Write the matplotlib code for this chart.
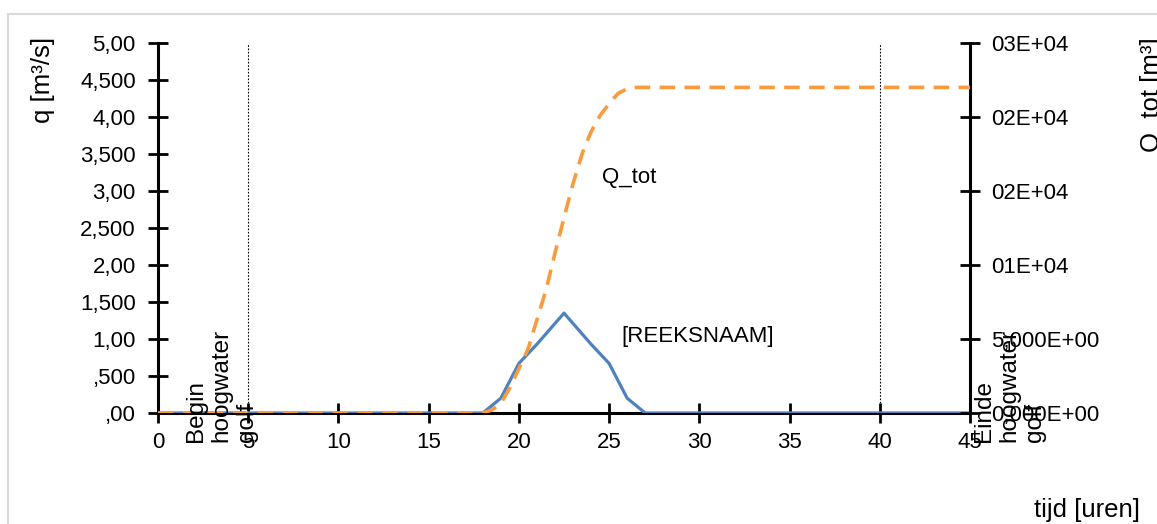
import numpy as np
from matplotlib import pyplot as plt
from matplotlib.lines import Line2D

plt.rcParams['font.family'] = ['Liberation Sans', 'DejaVu Sans']
plt.rcParams['font.size'] = 16

# afvoer q [m3/s] over de tijd
t_q = [0, 18, 19, 20, 21, 22.5, 24, 25, 26, 27, 45]
q = [0, 0, 0.2, 0.67, 0.93, 1.35, 0.93, 0.67, 0.2, 0, 0]

# cumulatief volume Q_tot [m3]
t_Q = [0, 18, 18.5, 19, 19.5, 20, 20.5, 21, 21.5, 22, 22.5, 23, 23.5,
       24, 24.5, 25, 25.5, 26, 26.5, 27, 45]
Q_tot = [0, 0, 200, 650, 1700, 3000, 4300, 6300, 8300, 10800, 13200, 15500, 17500,
         19000, 20100, 20900, 21600, 21900, 22000, 22000, 22000]

xticks = [0, 5, 10, 15, 20, 25, 30, 35, 40, 45]
qticks = [0, 0.5, 1, 1.5, 2, 2.5, 3, 3.5, 4, 4.5, 5]
qlabels = [",00", ",500", "1,00", "1,500", "2,00", "2,500", "3,00", "3,500", "4,00", "4,500", "5,00"]
Qticks = [0, 5000, 10000, 15000, 20000, 25000]
Qlabels = ["0,000E+00", "5,000E+00", "01E+04", "02E+04", "02E+04", "03E+04"]

begin_golf = 5
einde_golf = 40

blue = '#4F81BD'
orange = '#F99A3C'

fig = plt.figure(figsize=(11.57, 5.24), dpi=100)
ax = fig.add_axes([158/1157, 1 - 413/524, (970-158)/1157, (413-43)/524])
ax2 = ax.twinx()

# grijze kader rond de grafiek
fig.add_artist(Line2D([8/1157, 8/1157], [0, 1 - 14/524], color='#D9D9D9', lw=1.5))
fig.add_artist(Line2D([8/1157, 1], [1 - 14/524, 1 - 14/524], color='#D9D9D9', lw=1.5))

ax.plot(t_q, q, color=blue, lw=2.3, zorder=3)
ax2.plot(t_Q, Q_tot, color=orange, lw=2.6, dashes=(4.3, 2.6), zorder=3)

for x in [begin_golf, einde_golf]:
    ax.plot([x, x], [0, 5], color='black', lw=0.8, ls=(0, (1.5, 1.5)), zorder=1)

ax.set_xlim(0, 45)
ax.set_ylim(0, 5)
ax2.set_ylim(0, 25000)
ax.set_xticks(xticks)
ax.set_yticks(qticks)
ax.set_yticklabels(qlabels)
ax2.set_yticks(Qticks)
ax2.set_yticklabels(Qlabels)

for a in [ax, ax2]:
    a.patch.set_visible(False)
    a.spines['top'].set_visible(False)
ax.spines['right'].set_visible(False)
ax2.spines['left'].set_visible(False)
ax2.spines['bottom'].set_visible(False)
ax.spines['left'].set_linewidth(2.2)
ax.spines['bottom'].set_linewidth(2.2)
ax2.spines['right'].set_linewidth(2.2)

ax.tick_params(axis='both', direction='inout', length=14, width=2, colors='black')
ax.tick_params(axis='y', pad=9)
ax.tick_params(axis='x', pad=7)
ax2.tick_params(axis='y', direction='inout', length=14, width=2, pad=8)

# labels bij de reeksen
ax2.text(24.6, 3.18 * 5000, "Q_tot", va='center', ha='left')
ax2.text(25.7, 1.04 * 5000, "[REEKSNAAM]", va='center', ha='left')

ax2.text(3.5, -0.39 * 5000, "Begin\nhoogwater\ngolf", rotation=90, ha='center', va='bottom',
         multialignment='left', fontsize=17.5, clip_on=False, zorder=5)
ax2.text(47.2, -0.39 * 5000, "Einde\nhoogwater\ngolf", rotation=90, ha='center', va='bottom',
         multialignment='left', fontsize=17.5, clip_on=False, zorder=5)

fig.text(43/1157, 1 - 37/524, "q [m³/s]", rotation=90, ha='center', va='top', fontsize=18.5)
fig.text(1152/1157, 1 - 37/524, "Q_tot [m³]", rotation=90, ha='center', va='top', fontsize=18.5)
fig.text(1140/1157, 1 - 510/524, "tijd [uren]", ha='right', va='center', fontsize=18.5)

fig.savefig('out.png', dpi=100)
